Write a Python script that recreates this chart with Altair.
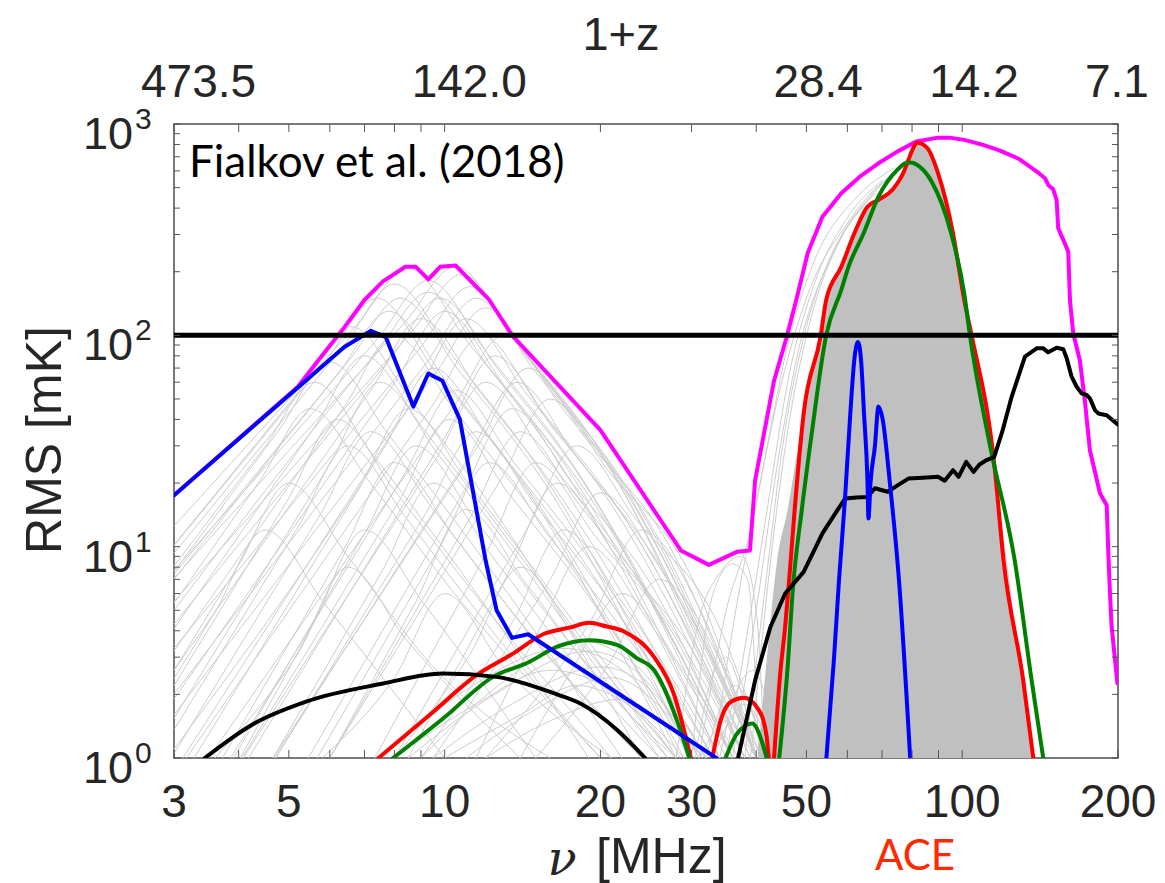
import altair as alt
import pandas as pd

# Plot-area size in pixels (the frame drawn around the data)
W, H = 944, 634

# ---------------- axis ticks and labels ----------------
NU_TICKS = [3, 4, 5, 6, 7, 8, 9, 10, 20, 30, 40, 50, 60, 70, 80, 90, 100, 200]
NU_LABELS = [3, 5, 10, 20, 30, 50, 100, 200]
TOP_NU = [3, 10, 50, 100, 200]          # redshift labels: 1+z = 1420.4 / nu
NU_21CM = 1420.4
T_TICKS = [1, 2, 3, 4, 5, 6, 7, 8, 9, 10, 20, 30, 40, 50, 60, 70, 80, 90,
           100, 200, 300, 400, 500, 600, 700, 800, 900, 1000]
T_DECADES = [1, 10, 100, 1000]
T_EXPONENTS = ["0", "1", "2", "3"]
REFERENCE_LEVEL = [100]

# ---------------- highlighted models ----------------
MAGENTA_NU = [3, 5.2, 5.6, 6.4, 7.0, 7.6, 8.4, 8.8, 9.3, 9.8, 10.5, 12.2, 13.5, 20,
              28.6, 32.4, 36.7, 38.9, 39.8, 43.3, 45.9, 47.8, 50.3, 53.7, 58.4, 63.4,
              68.9, 74.9, 81.5, 89.8, 94.5, 100.9, 109.7, 118, 128.5, 140.7, 144.5,
              146.6, 149.9, 152.2, 153.3, 156.8, 160.3, 161.5, 163.9, 168.8, 172.6,
              176.5, 184.6, 190.2, 191.5, 193, 194.4, 199.5]
MAGENTA_T = [17.5, 57, 72, 109, 147, 180, 211, 211, 184, 211, 214, 147, 100, 35.6,
             9.6, 8.2, 9.45, 9.6, 20.6, 61, 100, 147, 245, 364, 470, 563,
             652, 740, 826, 862, 862, 841, 796, 750, 685, 585, 554,
             515, 491, 437, 321, 283, 249, 147, 102, 76, 49,
             28.6, 17.9, 15.7, 9.6, 6.0, 4.2, 2.25]

BLUE_LOW_NU = [3, 5.2, 6.4, 7.2, 7.7, 8.7, 9.3, 9.9, 10.7, 12.0, 12.6, 13.5, 14.5, 33.5]
BLUE_LOW_T = [17.5, 56.5, 88, 105, 98, 46, 66, 61, 40, 8.6, 5.0, 3.7, 3.85, 1.0]
BLUE_HIGH_NU = [54.6, 56.5, 57.8, 59.4, 60.8, 62.0, 62.9, 63.8, 64.6, 65.6, 65.9,
                66.5, 67.8, 68.9, 70.2, 72.4, 75.5, 79.4]
BLUE_HIGH_T = [0.97, 2.9, 6.9, 17.2, 43, 80, 93, 75, 43, 20.6, 13.6,
               20, 29.7, 46, 40, 20.6, 6.9, 0.97]

RED_A_NU = [7.45, 9.5, 11.4, 13.5, 15.5, 17.5, 19.0, 20.5, 22.3, 25.4, 27.7, 29.9]
RED_A_T = [1.0, 1.65, 2.42, 3.1, 3.85, 4.15, 4.36, 4.2, 3.95, 3.0, 2.02, 1.0]
RED_B_NU = [32.9, 34.3, 35.8, 37.9, 40.5, 41.9, 42.3]
RED_B_T = [1.0, 1.56, 1.85, 1.93, 1.68, 1.26, 1.0]
RED_C_NU = [43.3, 44.5, 45.5, 46.3, 47.4, 49.4, 53.3, 54.6, 58.4, 61.9, 65.6, 68.9,
            73.4, 77.4, 78.7, 82.0, 85.7, 89.8, 96.0, 100.9, 104.3, 115.3, 120.2,
            131.2, 137.2]
RED_C_T = [1.0, 2.5, 4.2, 6.9, 14.4, 42.7, 100, 147, 211, 304, 406, 437,
           490, 606, 676, 816, 768, 585, 304, 147, 100, 24.8, 8.63,
           2.33, 1.0]

GREEN_A_NU = [7.95, 10.0, 12.4, 14.5, 16.6, 19.0, 21.6, 23.5, 25.4, 28.1, 29.7]
GREEN_A_T = [1.0, 1.56, 2.42, 2.83, 3.38, 3.61, 3.42, 2.97, 2.6, 1.51, 1.0]
GREEN_B_NU = [34.9, 36.7, 39.3, 41.0, 41.9]
GREEN_B_T = [1.0, 1.30, 1.455, 1.2, 1.0]
GREEN_C_NU = [44.3, 46.1, 47.0, 49.0, 51.1, 54.6, 58.4, 60.3, 64.5, 68.9, 74.9, 77.4,
              79.3, 82.7, 86.9, 95.2, 100.9, 103.5, 113.3, 126.3, 136.2, 143.4]
GREEN_C_T = [1.0, 2.9, 6.0, 15, 33.1, 100, 164, 211, 304, 453, 606, 650,
             657, 629, 544, 304, 158, 100, 29.7, 8.63, 2.33, 1.0]

BLACK_A_NU = [3.44, 4.27, 5.4, 7.6, 9.9, 12.6, 16.3, 18.3, 21.6, 24.4]
BLACK_A_T = [1.0, 1.45, 1.85, 2.25, 2.51, 2.42, 2.02, 1.81, 1.35, 1.0]
BLACK_B_NU = [36.9, 39.8, 42.6, 45.5, 49.4, 53.7, 57.4, 59.4, 62.5, 65.6, 67.8, 71.8,
              75, 78.7, 84, 89.8, 92.5, 96.0, 98.4, 101.8, 105.2, 108, 111.5, 115.3,
              119.5, 124.6, 132.2, 139.3, 143.4, 146.6, 152.2, 156.8, 159.2, 162.7,
              166.4, 170.1, 173.9, 176.5, 180.5, 183.2, 190.2, 199.5]
BLACK_B_T = [1.0, 2.33, 4.17, 6.0, 7.6, 11.55, 14.9, 16.9, 17.1, 17.2, 18.9, 18.2,
             19.5, 21.0, 21.2, 21.4, 20.5, 23.0, 21.4, 25.2, 22.6, 24.5, 25.7, 26.6,
             35, 51.2, 79.2, 86.8, 86.8, 83.1, 87.4, 85.9, 77.8, 63.7,
             57.1, 53.1, 52.2, 50.3, 44.3, 42.7, 41.9, 38.0]

# Upper edge of the dense band of models around 40-140 MHz (lower edge: 1 mK)
BAND_NU = [40.2, 41.9, 43.9, 46, 48, 49.4, 53.3, 54.6, 58.4, 61.9, 65.6, 68.9, 73.4,
           77.4, 78.7, 82.0, 85.7, 89.8, 96.0, 100.9, 104.3, 115.3, 120.2, 131.2, 137.2]
BAND_T = [0.95, 2.9, 8.6, 15, 28, 42.7, 100, 147, 211, 304, 406, 437, 490,
          606, 676, 816, 768, 585, 304, 147, 100, 24.8, 8.63, 2.33, 0.95]
BAND_FLOOR = 1

# ---------------- the rest of the model family (thin grey curves) ----------------
GRAY_ARCS = [
    [(3, 12.5), (6.8, 114), (8.5, 208), (11.05, 94), (16.15, 27.9), (34, 1)],
    [(3, 7.1), (8.4, 116), (10.5, 212), (13.65, 95), (19.95, 28.4), (38, 1)],
    [(3, 7.7), (7.44, 97), (9.3, 182), (12.1, 82), (17.7, 24.4), (36, 1)],
    [(3, 9.3), (6.4, 90), (8.0, 175), (10.4, 79), (15.2, 23.5), (31, 1)],
    [(3, 10.1), (5.92, 77), (7.4, 150), (9.6, 67.5), (14.1, 20.1), (28, 1)],
    [(3, 3.3), (8.96, 87), (11.2, 170), (14.6, 76.5), (21.3, 22.8), (40, 1)],
    [(3, 1.6), (9.6, 66), (12, 135), (15.6, 61), (22.8, 18.1), (40, 1)],
    [(3.5, 1), (10.4, 46), (13, 100), (16.9, 45), (24.7, 13.4), (40, 1)],
    [(4.66, 1), (11.6, 30), (14.5, 70), (18.9, 31.5), (27.6, 9.4), (40, 1)],
    [(6.0, 1), (12.8, 20.5), (16, 50), (20.8, 22.5), (30.4, 6.7), (40, 1)],
    [(3, 10.2), (5.28, 56), (6.6, 110), (8.6, 49.5), (12.5, 14.7), (24, 1)],
    [(3, 7.6), (4.8, 36), (6.0, 75), (7.8, 33.8), (11.4, 10), (22, 1)],
    [(3, 5.4), (4.4, 20.6), (5.5, 45), (7.15, 20.3), (10.45, 6), (20, 1)],
    [(3, 4.1), (5.6, 36.6), (7.0, 80), (9.1, 36), (13.3, 10.7), (27, 1)],
    [(3, 3.2), (6.4, 46), (8.0, 100), (10.4, 45), (15.2, 13.4), (30, 1)],
    [(3, 2.6), (7.2, 55), (9.0, 120), (11.7, 54), (17.1, 16.1), (33, 1)],
    [(3, 1.9), (8.0, 59.5), (10, 130), (13, 58.5), (19, 17.4), (36, 1)],
    [(3.12, 1), (8.8, 51.5), (11, 120), (14.3, 54), (20.9, 16.1), (38, 1)],
    [(3, 1.54), (6.0, 24.6), (7.5, 60), (9.75, 27), (14.25, 8), (26, 1)],
    [(3.28, 1), (6.8, 18.4), (8.5, 45), (11.05, 20.3), (16.15, 6), (28, 1)],
    [(3, 1.1), (7.6, 28.7), (9.5, 70), (12.35, 31.5), (18.05, 9.4), (32, 1)],
    [(3.86, 1), (8.4, 22.5), (10.5, 55), (13.65, 24.8), (19.95, 7.4), (33, 1)],
    [(4.18, 1), (10, 32.8), (12.5, 80), (16.25, 36), (23.75, 10.7), (38, 1)],
    [(4.72, 1), (9.2, 14.4), (11.5, 35), (14.95, 15.8), (21.85, 4.7), (32, 1)],
    [(5.45, 1), (10.8, 17.6), (13.5, 45), (17.55, 20.3), (25.65, 6), (36, 1)],
    [(3, 1.36), (5.2, 12.3), (6.5, 30), (8.45, 13.5), (12.35, 4), (20, 1)],
    [(3.72, 1), (6.4, 9.8), (8, 25), (10.4, 11.3), (15.2, 3.4), (24, 1)],
    [(4.66, 1), (7.6, 7.8), (9.5, 20), (12.35, 9), (18.05, 2.7), (26, 1)],
    [(6.0, 1), (8.8, 5.5), (11, 15), (14.3, 6.8), (20.9, 2), (28, 1)],
    [(7.33, 1), (12, 9.2), (15, 25), (19.5, 11.3), (28.5, 3.4), (36, 1)],
    [(3, 2.6), (4.0, 8.2), (5.0, 20), (6.5, 9), (9.5, 2.7), (16, 1)],
    [(3, 2.37), (3.6, 4.9), (4.5, 12), (5.85, 5.4), (10, 1)],
    [(4.03, 1), (5.6, 4.4), (7, 12), (9.1, 5.4), (15, 1)],
    [(4.08, 1), (9.6, 25.8), (12, 60), (15.6, 27), (22.8, 8), (36, 1)],
    [(6.0, 1), (11.2, 13.7), (14, 35), (18.2, 15.8), (26.6, 4.7), (38, 1)],
    [(8, 1), (14.4, 12), (18, 30), (23.4, 13.5), (34.2, 4), (42, 1)],
    [(9.5, 1), (16, 7), (20, 18), (26, 8), (40, 1)],
    [(9, 1), (13.6, 4.5), (17, 12), (22.1, 5.4), (34, 1)],
    [(3, 5), (7.44, 85), (9.3, 160), (12.1, 72), (17.7, 21.4), (34, 1)],
    [(3, 5.5), (8.64, 104), (10.8, 195), (14.04, 86), (20.5, 25), (39, 1)],
    [(3, 7.4), (6.24, 66.5), (7.8, 130), (10.14, 59), (14.8, 17.4), (29, 1)],
    [(3, 4.3), (7.84, 77), (9.8, 150), (12.74, 68), (18.6, 20), (35, 1)],
    [(3.17, 1), (9.44, 46), (11.8, 100), (15.3, 45), (22.4, 13.4), (39, 1)],
    [(4.7, 1), (11.04, 25.7), (13.8, 60), (17.9, 27), (26.2, 8), (41, 1)],
    [(3, 2.2), (4.96, 16.4), (6.2, 40), (8.06, 18), (11.8, 5.4), (21, 1)],
    [(3, 1.05), (5.76, 14.3), (7.2, 35), (9.36, 15.8), (13.7, 4.7), (24, 1)],
    [(3.91, 1), (7.04, 11.8), (8.8, 30), (11.44, 13.5), (16.7, 4), (27, 1)],
    [(4.06, 1), (8.16, 16.4), (10.2, 40), (13.26, 18), (19.4, 5.4), (30, 1)],
    [(5.67, 1), (9.76, 9.8), (12.2, 25), (15.86, 11.3), (23.2, 3.4), (32, 1)],
    [(8.5, 1), (13.2, 7.3), (16.5, 20), (21.5, 9), (31.4, 2.7), (38, 1)],
    [(11.5, 1), (15.2, 4), (19, 10), (24.7, 4.5), (36, 1)],
    [(14, 1), (17.6, 2.6), (22, 6), (28.6, 2.7), (37, 1)],
    [(8, 1), (11.2, 3.1), (14, 8), (18.2, 3.6), (28, 1)],
    [(5.8, 1), (8, 2.4), (10, 6), (13, 2.7), (21, 1)],
    [(3.6, 1), (5.2, 3.1), (6.5, 8), (8.45, 3.6), (14, 1)],
    [(12, 1), (19.2, 4.5), (24, 12), (31.2, 5), (40, 1)],
    [(15, 1), (20.8, 2.8), (26, 7), (33.8, 3), (41, 1)],
    [(3, 8.1), (4.48, 29.4), (5.6, 60), (7.28, 27), (10.6, 8), (19, 1)],
    [(3, 7.0), (6.56, 77), (8.2, 150), (10.66, 68), (15.6, 20), (30, 1)],
    [(3, 2.0), (9.2, 73.5), (11.5, 150), (14.95, 67.5), (21.85, 20), (40, 1)],
    # small arcs around 20 MHz
    [(8.5, 1), (12.5, 2.0), (19, 3.2), (25, 2.2), (30, 1)],
    [(9.5, 1), (13.5, 1.8), (20, 2.7), (26, 1.9), (31, 1)],
    [(10, 1), (14, 1.6), (18, 2.2), (24, 1.6), (29, 1)],
    [(8, 1), (11.5, 1.8), (16, 2.6), (22, 1.9), (28, 1)],
    [(11, 1), (15, 1.7), (21, 2.4), (27, 1.6), (31.5, 1)],
    [(7.5, 1), (11, 2.1), (17, 3.3), (23, 2.4), (28.5, 1)],
    [(12, 1), (16, 1.5), (22, 1.9), (27.5, 1.35), (32, 1)],
    [(9, 1), (13, 2.3), (18, 3.6), (24, 2.6), (29.5, 1)],
    # humps between 30 and 45 MHz
    [(32, 1), (34, 1.7), (36.5, 2.2), (39.5, 1.6), (42, 1)],
    [(33, 1), (35.5, 1.5), (38, 1.8), (41, 1.4), (43, 1)],
    [(31, 1), (33, 1.3), (35, 1.5), (38, 1.2), (40, 1)],
    [(34, 1), (36.5, 2.0), (39.5, 2.6), (42, 1.8), (44, 1)],
    [(30.5, 1), (33, 2.5), (35, 3.0), (37.5, 2.0), (40, 1)],
    [(28, 1), (31, 4.5), (34, 7.5), (37.5, 9), (40, 5), (41.5, 1)],
    [(30, 1), (33, 6), (36, 8.3), (38.5, 7), (40.5, 1)],
    # rising edges of the high-frequency models
    [(33, 1), (37, 6), (40, 16), (44, 50), (50, 150), (60, 340), (72, 560), (80, 640),
     (88, 520), (96, 300), (105, 90), (115, 22), (125, 5), (133, 1)],
    [(36, 1), (40, 5), (44, 25), (48, 80), (55, 220), (65, 430), (75, 600), (84, 700),
     (92, 450), (100, 160), (110, 35), (125, 3), (130, 1)],
    [(38, 1), (41.5, 6), (45, 30), (50, 110), (57, 260), (66, 440), (78, 680)],
    [(31, 1), (35, 5), (39, 12), (42, 30), (46, 90), (52, 230), (62, 440), (74, 620)],
    [(39, 1), (42.5, 8), (46, 35), (51, 120), (58, 280), (68, 470)],
    [(35, 1), (38.5, 4), (42, 15), (46, 60), (52, 180), (60, 360), (70, 540)],
]

# ---------------- build tables ----------------
def segments_frame(segments):
    rows = []
    for s, (nus, ts) in enumerate(segments):
        for i, (n, t) in enumerate(zip(nus, ts)):
            rows.append({"nu": n, "T": t, "seg": s, "idx": i})
    return pd.DataFrame(rows)


gray_df = segments_frame([([p[0] for p in arc], [p[1] for p in arc]) for arc in GRAY_ARCS])
band_df = pd.DataFrame({"nu": BAND_NU, "T": BAND_T, "floor": BAND_FLOOR})

xs = alt.Scale(type="log", domain=[3, 200], nice=False)
ys = alt.Scale(type="log", domain=[1, 1000], nice=False)
X = alt.X("nu:Q", scale=xs, axis=None)
Y = alt.Y("T:Q", scale=ys, axis=None)


def curve(segments, color, width=4, interp="monotone"):
    return alt.Chart(segments_frame(segments)).mark_line(
        color=color, strokeWidth=width, clip=True, interpolate=interp,
        strokeJoin="round", strokeCap="round"
    ).encode(x=X, y=Y, detail="seg:N", order="idx:Q")


gray = alt.Chart(gray_df).mark_line(
    color="#cdcdcd", strokeWidth=1, clip=True, interpolate="monotone"
).encode(x=X, y=Y, detail="seg:N", order="idx:Q")

band = alt.Chart(band_df).mark_area(
    color="#c0c0c0", opacity=1, clip=True, interpolate="monotone"
).encode(x=X, y=Y, y2="floor:Q")

magenta = curve([(MAGENTA_NU, MAGENTA_T)], "#ff00ff", interp="linear")
red = curve([(RED_A_NU, RED_A_T), (RED_B_NU, RED_B_T), (RED_C_NU, RED_C_T)], "#ff0000")
green = curve([(GREEN_A_NU, GREEN_A_T), (GREEN_B_NU, GREEN_B_T), (GREEN_C_NU, GREEN_C_T)], "#008000")
black_low = curve([(BLACK_A_NU, BLACK_A_T)], "#000000")
black_high = curve([(BLACK_B_NU, BLACK_B_T)], "#000000", interp="linear")
blue_low = curve([(BLUE_LOW_NU, BLUE_LOW_T)], "#0000ff", interp="linear")
blue_high = curve([(BLUE_HIGH_NU, BLUE_HIGH_T)], "#0000ff")

level = alt.Chart(pd.DataFrame({"T": REFERENCE_LEVEL})).mark_rule(
    color="black", strokeWidth=5
).encode(y=Y, x=alt.value(0), x2=alt.value(W))

# inward ticks on all four sides
tick_color = "#555555"
nu_df = pd.DataFrame({"nu": NU_TICKS})
t_df = pd.DataFrame({"T": T_TICKS})
ticks = [
    alt.Chart(nu_df).mark_rule(color=tick_color, strokeWidth=1).encode(
        x=X, y=alt.value(H), y2=alt.value(H - 8)),
    alt.Chart(nu_df).mark_rule(color=tick_color, strokeWidth=1).encode(
        x=X, y=alt.value(0), y2=alt.value(8)),
    alt.Chart(t_df).mark_rule(color=tick_color, strokeWidth=1).encode(
        y=Y, x=alt.value(0), x2=alt.value(6)),
    alt.Chart(t_df).mark_rule(color=tick_color, strokeWidth=1).encode(
        y=Y, x=alt.value(W), x2=alt.value(W - 6)),
]

LABEL_FONT = "Liberation Sans"
LABEL_COLOR = "#262626"

bottom_labels = alt.Chart(pd.DataFrame({"nu": NU_LABELS})).mark_text(
    font=LABEL_FONT, fontSize=46, color=LABEL_COLOR, align="center", baseline="alphabetic"
).encode(x=X, y=alt.value(H + 59), text=alt.Text("nu:Q", format="d"))

top_labels = alt.Chart(pd.DataFrame({"nu": TOP_NU})).transform_calculate(
    label=f"format({NU_21CM} / datum.nu, '.1f')"
).mark_text(
    font=LABEL_FONT, fontSize=46, color=LABEL_COLOR, align="left", baseline="alphabetic", dx=-33
).encode(x=X, y=alt.value(-27), text="label:N")

dec_df = pd.DataFrame({"T": T_DECADES, "exp": T_EXPONENTS})
y_base = alt.Chart(dec_df).mark_text(
    text="10", font=LABEL_FONT, fontSize=45, color=LABEL_COLOR, align="right",
    baseline="alphabetic", dx=-41, dy=25
).encode(x=alt.value(0), y=Y)
y_exp = alt.Chart(dec_df).mark_text(
    font=LABEL_FONT, fontSize=30, color=LABEL_COLOR, align="left",
    baseline="alphabetic", dx=-39, dy=5
).encode(x=alt.value(0), y=Y, text="exp:N")

one = pd.DataFrame({"k": [0]})


def note(text, x, y, **kw):
    return alt.Chart(one).mark_text(text=text, baseline="alphabetic", **kw).encode(
        x=alt.value(x), y=alt.value(y))


notes = [
    note("RMS [mK]", -113, 316, angle=270, align="center", font=LABEL_FONT,
         fontSize=50, color=LABEL_COLOR),
    note("ν", 388, 751, align="center", font="DejaVu Serif", fontStyle="italic",
         fontSize=48, color=LABEL_COLOR),
    note("[MHz]", 422, 749, align="left", font=LABEL_FONT, fontSize=50, color=LABEL_COLOR),
    note("1+z", 447, -74, align="center", font=LABEL_FONT, fontSize=47, color=LABEL_COLOR),
    note("Fialkov et al. (2018)", 15, 53, align="left", font="Lato", fontSize=44,
         color="#000000"),
    note("ACE", 741, 746, align="center", font="Lato", fontSize=42, color="#ff2a00"),
]

chart = alt.layer(
    gray, band, magenta, red, green, black_low, black_high, blue_low, blue_high,
    level, *ticks, bottom_labels, top_labels, y_base, y_exp, *notes
).properties(
    width=W, height=H,
    autosize=alt.AutoSizeParams(type="none"),
    padding={"left": 174, "top": 124, "right": 47, "bottom": 125},
    background="white",
).configure_view(stroke="#4d4d4d", strokeWidth=1.5)

chart.save("out.html", embed_options={"renderer": "svg", "actions": False})
